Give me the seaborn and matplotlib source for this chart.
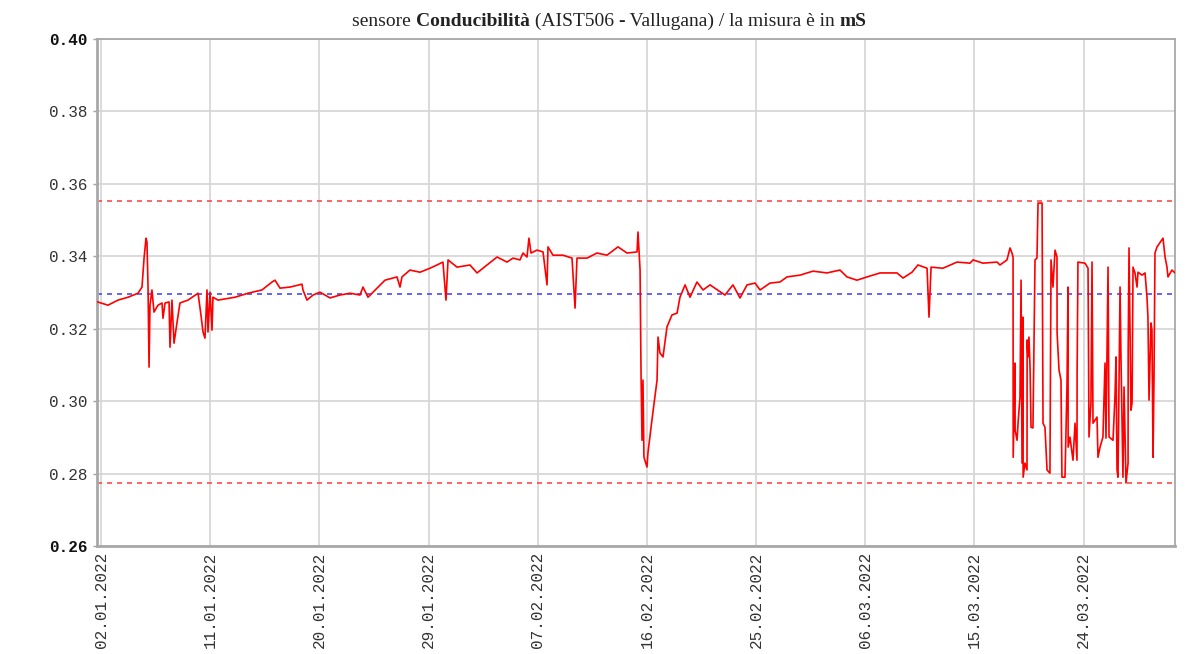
import matplotlib
matplotlib.use("Agg")
import matplotlib.pyplot as plt
import matplotlib.dates as mdates
import numpy as np
import pandas as pd
import seaborn as sns

# days since 01.01.2022 00:00
days = [0.51, 1.58, 2.40, 3.23, 4.05, 4.38, 4.55, 4.71, 4.79, 4.88, 4.96, 5.04, 5.20, 5.37, 5.70,
        6.03, 6.11, 6.28, 6.61, 6.69, 6.85, 7.02, 7.27, 7.51, 8.17, 9.00, 9.24, 9.41, 9.57, 9.74,
        9.82, 9.99, 10.15, 10.23, 10.65, 12.05, 13.12, 14.27, 15.10,
        15.34, 15.76, 16.58, 17.57, 17.65, 17.98, 18.48, 19.05, 19.88, 20.70, 21.53, 22.35, 22.60,
        23.01, 23.75, 24.41, 25.40, 25.65, 25.81, 26.47, 27.30, 28.12, 28.70, 29.19, 29.44, 29.61,
        30.35, 31.42,
        32.00, 32.82, 33.65, 34.47, 34.97, 35.54, 35.79, 36.12, 36.28, 36.45, 36.94, 37.44, 37.60,
        37.77, 37.85, 38.26, 39.09, 39.83, 40.08, 40.24, 41.07, 41.89, 42.71, 43.62, 44.36, 45.19,
        45.27, 45.44, 45.52, 45.60, 45.68, 45.76, 46.01, 46.09, 46.42, 46.84, 46.92, 47.08, 47.33,
        47.66, 48.07, 48.49, 48.73, 49.15, 49.56, 50.13, 50.63, 51.21, 52.44, 53.10, 53.68, 54.26,
        54.92, 55.33, 56.15, 56.98, 57.55, 58.63, 59.70, 60.85, 61.92, 62.50, 63.32, 64.15, 65.22,
        66.62, 67.12, 67.86, 68.35, 69.10, 69.26, 69.43, 70.41, 71.57, 72.64, 72.89, 73.71, 74.87,
        75.11, 75.69, 75.94, 76.10,
        76.19, 76.20, 76.35, 76.36, 76.52, 76.60, 76.76, 76.85, 76.93, 77.01, 77.02, 77.17, 77.34,
        77.35, 77.42, 77.50, 77.59, 77.67, 77.83, 78.00, 78.16, 78.25, 78.58, 78.66, 78.82, 78.99,
        79.23, 79.32, 79.48, 79.65, 79.81, 79.82, 79.98, 80.14, 80.22, 80.47, 80.64, 80.72, 80.73,
        80.88, 81.05, 81.13, 81.30, 81.46, 81.47, 81.54, 82.12, 82.37, 82.45, 82.61, 82.70, 82.78,
        83.11, 83.19, 83.36, 83.60, 83.77, 83.85, 84.02, 84.10, 84.43, 84.59, 84.68, 84.76, 84.84,
        85.01, 85.09, 85.25, 85.34, 85.50, 85.67, 85.68, 85.75, 85.91, 86.00, 86.08, 86.24, 86.41,
        86.49, 86.82, 87.07, 87.23, 87.31, 87.40, 87.56, 87.64, 87.73, 87.81, 87.89, 88.06, 88.55,
        88.72, 88.88, 88.96, 89.29, 89.54]

# conductivity in mS
values = [0.3276, 0.3265, 0.3279, 0.3287, 0.3298, 0.3315, 0.3395, 0.3450, 0.3439, 0.3312, 0.3094,
          0.3265, 0.3307, 0.3246, 0.3265, 0.3271, 0.3229, 0.3271, 0.3274, 0.3149, 0.3279, 0.3160,
          0.3218, 0.3271, 0.3279, 0.3298, 0.3238, 0.3191, 0.3174, 0.3307, 0.3191, 0.3301, 0.3196,
          0.3287, 0.3279, 0.3287, 0.3298, 0.3307, 0.3329,
          0.3334, 0.3312, 0.3315, 0.3323, 0.3307, 0.3279, 0.3293, 0.3301, 0.3285, 0.3293, 0.3298,
          0.3293, 0.3315, 0.3287, 0.3312, 0.3334, 0.3343, 0.3315, 0.3343, 0.3362, 0.3356, 0.3367,
          0.3376, 0.3384, 0.3279, 0.3390, 0.3370, 0.3376,
          0.3354, 0.3376, 0.3398, 0.3384, 0.3395, 0.3390, 0.3409, 0.3398, 0.3450, 0.3409, 0.3417,
          0.3412, 0.3367, 0.3321, 0.3426, 0.3403, 0.3403, 0.3395, 0.3257, 0.3395, 0.3395, 0.3409,
          0.3403, 0.3426, 0.3409, 0.3412, 0.3467, 0.3362, 0.3077, 0.2892, 0.3058, 0.2845, 0.2818,
          0.2857, 0.2948, 0.3058, 0.3177, 0.3133, 0.3122, 0.3205, 0.3238, 0.3243, 0.3287, 0.3321,
          0.3287, 0.3329, 0.3307, 0.3321, 0.3293, 0.3321, 0.3285, 0.3321, 0.3326, 0.3307, 0.3326,
          0.3329, 0.3343, 0.3348, 0.3359, 0.3354, 0.3362, 0.3343, 0.3334, 0.3343, 0.3354, 0.3354,
          0.3340, 0.3356, 0.3376, 0.3367, 0.3232, 0.3370, 0.3367, 0.3384, 0.3381, 0.3390, 0.3381,
          0.3384, 0.3376, 0.3390, 0.3423, 0.3409,
          0.3398, 0.2845, 0.3105, 0.2920, 0.2892, 0.2939, 0.3011, 0.3334, 0.2829, 0.3232, 0.2790,
          0.2829, 0.2810, 0.3169, 0.3122, 0.3177, 0.3094, 0.2928, 0.2926, 0.3390, 0.3395, 0.3547,
          0.3547, 0.2939, 0.2928, 0.2810, 0.2801, 0.3390, 0.3315, 0.3417, 0.3398, 0.3188, 0.3086,
          0.3058, 0.2790, 0.2790, 0.3050, 0.3315, 0.2873, 0.2901, 0.2857, 0.2837, 0.2939, 0.2837,
          0.3077, 0.3384, 0.3381, 0.3367, 0.2901, 0.2995, 0.3384, 0.2939, 0.2956, 0.2845, 0.2873,
          0.2901, 0.3105, 0.2898, 0.3370, 0.2901, 0.2892, 0.3011, 0.3122, 0.2810, 0.2790, 0.3315,
          0.3113, 0.2790, 0.3039, 0.2774, 0.2829, 0.3141, 0.3423, 0.2975, 0.2995, 0.3370, 0.3354,
          0.3315, 0.3356, 0.3348, 0.3354, 0.3287, 0.3232, 0.3003, 0.3216, 0.3196, 0.2845, 0.3066,
          0.3409, 0.3426, 0.3450, 0.3398, 0.3370, 0.3343, 0.3362, 0.3354]

upper_limit = 0.3553
lower_limit = 0.2774
mean_level = 0.3296

y_ticks = [0.26, 0.28, 0.30, 0.32, 0.34, 0.36, 0.38, 0.40]
y_tick_labels = ["0.26", "0.28", "0.30", "0.32", "0.34", "0.36", "0.38", "0.40"]
tick_dates = ["2022-01-02", "2022-01-11", "2022-01-20", "2022-01-29", "2022-02-07",
              "2022-02-16", "2022-02-25", "2022-03-06", "2022-03-15", "2022-03-24"]
x_start_day = 0.67
x_end_day = 89.54

title_parts = [("sensore ", "normal"), ("Conducibilità", "bold"), (" (AIST506 ", "normal"),
               ("-", "bold"), (" Vallugana) / la misura è in ", "normal"), ("mS", "bold")]

sns.set_theme(style="white")
plt.rcParams["font.family"] = ["Liberation Mono", "DejaVu Sans Mono"]

base = pd.Timestamp("2022-01-01")
df = pd.DataFrame({"date": base + pd.to_timedelta(days, unit="D"), "value": values})

fig = plt.figure(figsize=(12.02, 6.54), dpi=100)
ax = fig.add_axes([97 / 1202, 1 - 546 / 654, (1175 - 97) / 1202, (546 - 39) / 654])

ax.grid(True, color="#d4d4d4", linewidth=1.2, zorder=0)
ax.set_axisbelow(True)

sns.lineplot(data=df, x="date", y="value", color="#ff0000", linewidth=1.2,
             estimator=None, sort=False, ax=ax, zorder=3)

ax.axhline(upper_limit, color="#ff4a4a", linewidth=1.2, linestyle=(0, (3, 3)), zorder=2)
ax.axhline(lower_limit, color="#ff4a4a", linewidth=1.2, linestyle=(0, (3, 3)), zorder=2)
ax.axhline(mean_level, color="#4a4aff", linewidth=1.2, linestyle=(0, (3, 3)), zorder=2)

ax.set_xlim(base + pd.Timedelta(days=x_start_day), base + pd.Timedelta(days=x_end_day))
ax.set_ylim(0.26, 0.40)
ax.set_yticks(y_ticks)
ax.set_yticklabels(y_tick_labels)
ax.set_xticks(pd.to_datetime(tick_dates))
ax.xaxis.set_major_formatter(mdates.DateFormatter("%d.%m.%Y"))

ax.tick_params(axis="y", length=3, width=1, color="#a0a0a0", pad=4, labelsize=11.5,
               labelcolor="#333333", left=True)
ax.tick_params(axis="x", length=0, pad=4, labelsize=11.5, labelcolor="#333333",
               labelrotation=90, bottom=True)
for lab in ax.get_yticklabels():
    if lab.get_text() in ("0.40", "0.26"):
        lab.set_fontweight("bold")
        lab.set_color("#111111")

for s in ["left", "bottom", "top", "right"]:
    ax.spines[s].set_visible(True)
    ax.spines[s].set_color("#a8a8a8")
    ax.spines[s].set_linewidth(1.3)
ax.spines["left"].set_linewidth(2.0)
ax.spines["bottom"].set_linewidth(2.0)

ax.set_xlabel("")
ax.set_ylabel("")

# title with mixed weights
prev = None
for text, weight in title_parts:
    kw = dict(fontsize=14, fontweight=weight, color="#222222",
              family=["Liberation Serif", "DejaVu Serif"])
    if prev is None:
        prev = fig.text(352 / 1202, 1 - 26 / 654, text, ha="left", va="baseline", **kw)
    else:
        prev = ax.annotate(text, xy=(1, 0), xycoords=prev, ha="left", va="bottom",
                           annotation_clip=False, **kw)

fig.savefig("out.png", dpi=100)
